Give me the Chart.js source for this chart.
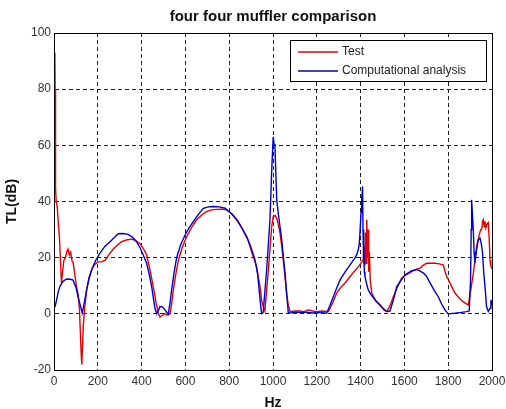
<!DOCTYPE html>
<html>
<head>
  <title>four four muffler comparison</title>
  <script src="https://cdn.jsdelivr.net/npm/chart.js"></script>
  <style>
    body { margin: 0; background: #fff; }
  </style>
</head>
<body>
  <canvas id="myChart" width="506" height="409"></canvas>
  <script>
    // values
    const testHz = [4, 5, 6, 8, 10, 15, 20, 25, 30, 34, 38, 45, 52, 58, 64, 70, 76, 82, 88, 95, 102, 110, 116, 120, 124, 127, 130, 134, 140, 149, 160, 172, 185, 200, 215, 233, 250, 270, 290, 309, 330, 355, 375, 393, 410, 423, 440, 455, 466, 476, 484, 495, 507, 520, 530, 538, 545, 556, 568, 585, 606, 630, 651, 675, 697, 720, 743, 765, 788, 815, 842, 865, 887, 905, 925, 940, 948, 955, 963, 967, 973, 979, 987, 994, 1001, 1010, 1017, 1025, 1032, 1040, 1047, 1055, 1062, 1070, 1078, 1100, 1123, 1140, 1161, 1180, 1200, 1225, 1253, 1270, 1291, 1310, 1329, 1352, 1370, 1390, 1405, 1412, 1416, 1419, 1422, 1425, 1428, 1431, 1434, 1437, 1440, 1444, 1451, 1470, 1489, 1505, 1519, 1535, 1549, 1568, 1587, 1610, 1633, 1650, 1671, 1690, 1702, 1720, 1740, 1760, 1778, 1786, 1793, 1805, 1816, 1830, 1846, 1860, 1877, 1892, 1900, 1907, 1915, 1922, 1930, 1940, 1948, 1953, 1957, 1960, 1964, 1968, 1972, 1977, 1983, 1987, 1991, 1995, 2000];
    const testDb = [93, 80, 57, 45, 40, 38, 32, 27, 18, 11, 14, 19, 20, 22, 23, 21, 22, 19, 18, 14, 10, 7, 2, -6, -14, -18, -12, -4, 2, 8.5, 13, 15.7, 17.5, 18.5, 18.5, 19, 21, 23, 24.5, 25.7, 26.3, 26.6, 26, 25, 23, 21, 15, 9, 4, 0.3, -1.2, -0.5, 0, -0.5, 0, 4, 8.5, 14, 19, 23.5, 27.5, 31, 33.5, 35.2, 36.4, 37, 37.2, 37.3, 37, 35.5, 32.8, 29.5, 26, 21.5, 16.8, 10, 5, 2.6, 1, 4.8, 10, 15.7, 24, 31, 34.6, 35, 34, 31.5, 28.7, 24, 19.2, 13, 7.4, 3, 0.8, 1, 1, 0.8, 1.4, 1, 0.8, 1, 0.8, 3.5, 7.4, 9.5, 11, 13.3, 15, 16.8, 18.5, 19.2, 24, 17, 29, 18, 33.5, 20, 30, 15, 22, 12, 7.4, 4.5, 3.2, 1.5, 0.8, 3, 6, 9.5, 12.7, 14, 15, 15.7, 16.3, 17.5, 18, 18, 18, 17.8, 17.4, 15, 13.3, 11.5, 9.7, 7.5, 6, 4.8, 3.8, 3.2, 7, 10.5, 14.5, 19, 24, 27.5, 30, 30, 33, 33.5, 31, 33, 30.6, 32, 32.5, 27, 19, 17, 16];

    const compHz = [0, 5, 12, 20, 27, 40, 58, 75, 87, 100, 110, 120, 129, 136, 149, 160, 172, 190, 210, 232, 256, 275, 294, 315, 338, 358, 377, 393, 410, 423, 435, 446, 455, 461, 469, 476, 484, 495, 507, 515, 522, 530, 537, 548, 560, 578, 598, 616, 636, 660, 682, 705, 728, 755, 781, 808, 834, 858, 880, 900, 918, 930, 941, 948, 955, 963, 971, 979, 986, 990, 994, 998, 1001, 1005, 1009, 1013, 1017, 1024, 1032, 1040, 1047, 1055, 1062, 1070, 1090, 1108, 1130, 1154, 1180, 1210, 1245, 1260, 1275, 1290, 1306, 1330, 1352, 1370, 1382, 1390, 1394, 1398, 1402, 1405, 1409, 1411, 1413, 1415, 1417, 1420, 1428, 1435, 1450, 1473, 1495, 1519, 1534, 1550, 1565, 1585, 1603, 1630, 1656, 1672, 1687, 1700, 1717, 1735, 1755, 1770, 1785, 1800, 1830, 1860, 1884, 1896, 1902, 1905, 1907, 1911, 1915, 1918, 1922, 1930, 1937, 1945, 1951, 1957, 1962, 1968, 1975, 1983, 1991, 1995, 2000];
    const compDb = [2, 2.6, 5, 8, 9.7, 11.5, 12.4, 12.3, 12, 9.5, 6, 3, 0.3, 3, 8.5, 12.5, 15.7, 19, 21.6, 24, 25.7, 27.2, 28.5, 28.6, 28.3, 27.3, 25.7, 23.5, 20.5, 18, 14, 9.7, 5, 2, 0, 1, 2.6, 2.5, 1.4, 0.5, 0, 4, 8.5, 14.5, 20, 24.5, 28, 30.5, 32.8, 35.5, 37.6, 38.1, 38.2, 38.1, 37.6, 35.8, 33.5, 30.5, 27.5, 23.5, 19.2, 14, 5, 0, 0.4, 8, 15.7, 25, 33.5, 42, 51, 58, 63, 60.5, 59.6, 50, 40.6, 35.8, 31, 26.3, 20.5, 14.5, 7.5, 0.2, 0.5, 0.6, 0.4, 0.6, 0.3, 0.5, 0.2, 3, 6, 9, 12, 15, 17.4, 19.5, 21, 23, 25, 30, 36, 41, 45.3, 30, 18, 26, 15, 13.3, 10.5, 8.5, 6.5, 4.4, 2.5, 0.8, 1, 5, 9.7, 12, 13.9, 15.2, 15.8, 15.2, 14.5, 13.5, 11, 8.5, 6, 3.5, 1.4, 0, 0.2, 0.5, 0.8, 1, 12, 30, 40.6, 35, 29, 22, 18, 23, 26.3, 27, 25, 21.6, 15, 9.7, 2.6, 0.8, 2, 5, 3];

    const xTicks = [0, 200, 400, 600, 800, 1000, 1200, 1400, 1600, 1800, 2000];
    const yTicks = [-20, 0, 20, 40, 60, 80, 100];
    const seriesNames = ['Test', 'Computational analysis'];

    const toPoints = (xs, ys) => xs.map((x, i) => ({ x: x, y: ys[i] }));

    const fontFamily = "'Liberation Sans', Arial, sans-serif";

    // matlab style box around the axes plus the boxed legend inside it
    const boxPlugin = {
      id: 'boxPlugin',
      afterLayout(chart) {
        // center the title over the axes, not the whole canvas
        if (chart.titleBlock) {
          chart.titleBlock.left = chart.chartArea.left;
          chart.titleBlock.right = chart.chartArea.right;
        }
      },
      afterDraw(chart) {
        const { ctx, chartArea } = chart;
        ctx.save();
        ctx.strokeStyle = '#000';
        ctx.lineWidth = 1;
        ctx.setLineDash([]);
        ctx.strokeRect(chartArea.left + 0.5, chartArea.top + 0.5,
          chartArea.right - chartArea.left, chartArea.bottom - chartArea.top);

        const w = 196, h = 41;
        const lx = chartArea.right - 202, ly = chartArea.top + 7;
        ctx.fillStyle = '#fff';
        ctx.fillRect(lx, ly, w, h);
        ctx.strokeRect(lx + 0.5, ly + 0.5, w, h);
        ctx.font = '12px ' + fontFamily;
        ctx.textBaseline = 'middle';
        chart.data.datasets.forEach((ds, i) => {
          const yy = ly + 12 + i * 19;
          ctx.strokeStyle = ds.borderColor;
          ctx.lineWidth = 1.5;
          ctx.beginPath();
          ctx.moveTo(lx + 8, yy);
          ctx.lineTo(lx + 48, yy);
          ctx.stroke();
          ctx.fillStyle = '#222';
          ctx.fillText(ds.label, lx + 52, yy);
        });
        ctx.restore();
      }
    };

    const chartConfig = {
      type: 'line',
      data: {
        datasets: [
          {
            label: seriesNames[0],
            data: toPoints(testHz, testDb),
            borderColor: 'rgb(228, 0, 0)',
            borderWidth: 1.4,
            pointRadius: 0,
            tension: 0,
            order: 1
          },
          {
            label: seriesNames[1],
            data: toPoints(compHz, compDb),
            borderColor: 'rgb(0, 0, 205)',
            borderWidth: 1.4,
            pointRadius: 0,
            tension: 0,
            order: 0
          }
        ]
      },
      options: {
        responsive: false,
        animation: false,
        layout: { padding: { left: 0, right: 14, top: 0, bottom: 0 } },
        plugins: {
          legend: { display: false },
          tooltip: { enabled: false },
          title: {
            display: true,
            text: 'four four muffler comparison',
            color: '#111',
            font: { family: fontFamily, size: 15, weight: 'bold' },
            padding: { top: 8, bottom: 7 }
          }
        },
        scales: {
          x: {
            type: 'linear',
            min: 0,
            max: 2000,
            afterFit: (scale) => {
              scale.height = 39;
              scale.paddingLeft = 0;
              scale.paddingRight = 0;
            },
            afterBuildTicks: (scale) => { scale.ticks = xTicks.map(v => ({ value: v })); },
            ticks: {
              color: '#333',
              font: { family: fontFamily, size: 12 },
              padding: 4,
              maxRotation: 0,
              callback: (value) => String(value)
            },
            grid: { color: '#222', lineWidth: 1, drawTicks: false },
            border: { display: true, color: '#000', dash: [4, 3] },
            title: {
              display: true,
              text: 'Hz',
              color: '#111',
              font: { family: fontFamily, size: 14, weight: 'bold' },
              padding: { top: 0, bottom: -3 }
            }
          },
          y: {
            type: 'linear',
            min: -20,
            max: 100,
            afterFit: (scale) => { scale.width = 54; },
            afterBuildTicks: (scale) => { scale.ticks = yTicks.map(v => ({ value: v })); },
            ticks: {
              color: '#333',
              font: { family: fontFamily, size: 12 },
              padding: 3,
              callback: (value) => String(value)
            },
            grid: { color: '#222', lineWidth: 1, drawTicks: false },
            border: { display: true, color: '#000', dash: [4, 3] },
            title: {
              display: true,
              text: 'TL(dB)',
              color: '#111',
              font: { family: fontFamily, size: 14, weight: 'bold' },
              padding: { top: 4, bottom: 0 }
            }
          }
        }
      },
      plugins: [boxPlugin]
    };

    const myChart = new Chart(document.getElementById('myChart'), chartConfig);
  </script>
</body>
</html>
